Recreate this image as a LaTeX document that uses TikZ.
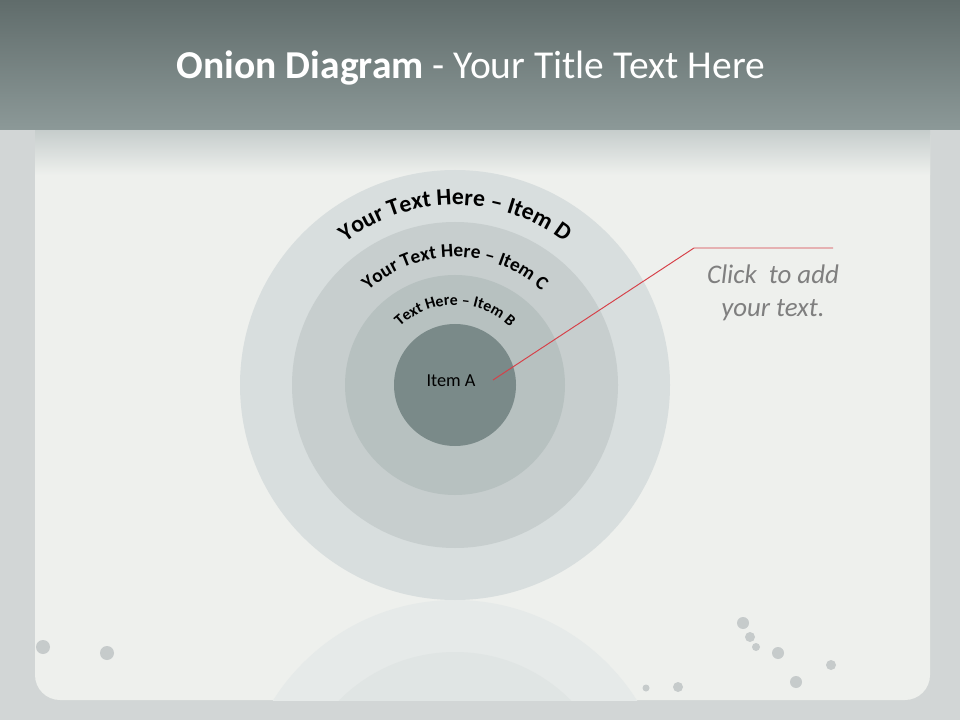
\documentclass[tikz,border=0pt]{standalone}
\usepackage{fontspec}
\setmainfont{Carlito}
\usetikzlibrary{decorations.text}
\definecolor{headtop}{RGB}{96,108,107}
\definecolor{headbot}{RGB}{140,153,152}
\definecolor{bandtop}{RGB}{198,205,204}
\definecolor{framegray}{RGB}{210,214,214}
\definecolor{panel}{RGB}{238,240,237}
\definecolor{blot}{RGB}{198,203,203}
\definecolor{ringd}{RGB}{216,222,222}
\definecolor{ringc}{RGB}{199,206,206}
\definecolor{ringb}{RGB}{183,193,192}
\definecolor{corea}{RGB}{122,138,137}
\definecolor{reflectd}{RGB}{230,234,233}
\definecolor{reflectc}{RGB}{224,229,228}
\definecolor{calloutred}{RGB}{214,64,72}
\definecolor{clickgray}{RGB}{127,127,127}
\newcommand{\ringfont}[1]{\bfseries\fontsize{#1}{#1}\selectfont}
\newcommand{\arclabel}[3]{\path[decorate,decoration={text along path,text align=center,
  text={|\ringfont{#2}|#3}}] (9.1,6.7) ++(180:#1) arc (180:0:#1);}

\begin{document}
\begin{tikzpicture}
\useasboundingbox (0,0) rectangle (19.2,14.4);
% slide background
\fill[framegray] (0,0) rectangle (19.2,14.4);
\fill[panel,rounded corners=0.5cm] (0.7,0.4) rectangle (18.6,12.2);
\shade[top color=bandtop,bottom color=panel] (0.7,10.9) rectangle (18.6,11.8);
\shade[top color=headtop,bottom color=headbot] (0,11.8) rectangle (19.2,14.4);
\foreach \x/\y/\r in {14.86/1.94/0.12,15.0/1.66/0.1,15.12/1.46/0.08,15.56/1.34/0.12,
  15.92/0.76/0.12,16.62/1.1/0.1,13.56/0.66/0.1,12.92/0.64/0.07,0.86/1.46/0.14,2.14/1.34/0.14}
  \fill[blot] (\x,\y) circle (\r);
% reflection
\begin{scope}
\clip (0.7,0.4) rectangle (18.6,2.4);
\fill[reflectd] (9.1,-1.9) circle (4.3);
\fill[reflectc] (9.1,-1.9) circle (3.26);
\end{scope}
% onion rings
\fill[ringd] (9.1,6.7) circle (4.3);
\fill[ringc] (9.1,6.7) circle (3.26);
\fill[ringb] (9.1,6.7) circle (2.2);
\fill[corea] (9.1,6.7) circle (1.22);
\arclabel{3.6}{13.5}{Your Text Here – Item D}
\arclabel{2.56}{11}{Your Text Here – Item C}
\arclabel{1.6}{9}{Text Here – Item B}
\draw (9.02,6.78) node[font=\fontsize{10.4}{12}\selectfont] (itema) {Item A};
% callout
\coordinate (lead) at (9.86,6.8);
\coordinate (elbow) at (13.88,9.44);
\coordinate (tail) at (16.66,9.44);
\draw[calloutred,line width=0.55pt] (lead) -- (elbow) -- (tail);
\draw (15.46,8.54) node[align=center,text=clickgray,font=\itshape\fontsize{15.3}{18.7}\selectfont] (clicktxt) {Click~~to add\\your text.};
% title
\draw (9.42,13.04) node[text=white,font=\fontsize{22.5}{26}\selectfont] (title) {\textbf{Onion Diagram} - Your Title Text Here};
\end{tikzpicture}
\end{document}
